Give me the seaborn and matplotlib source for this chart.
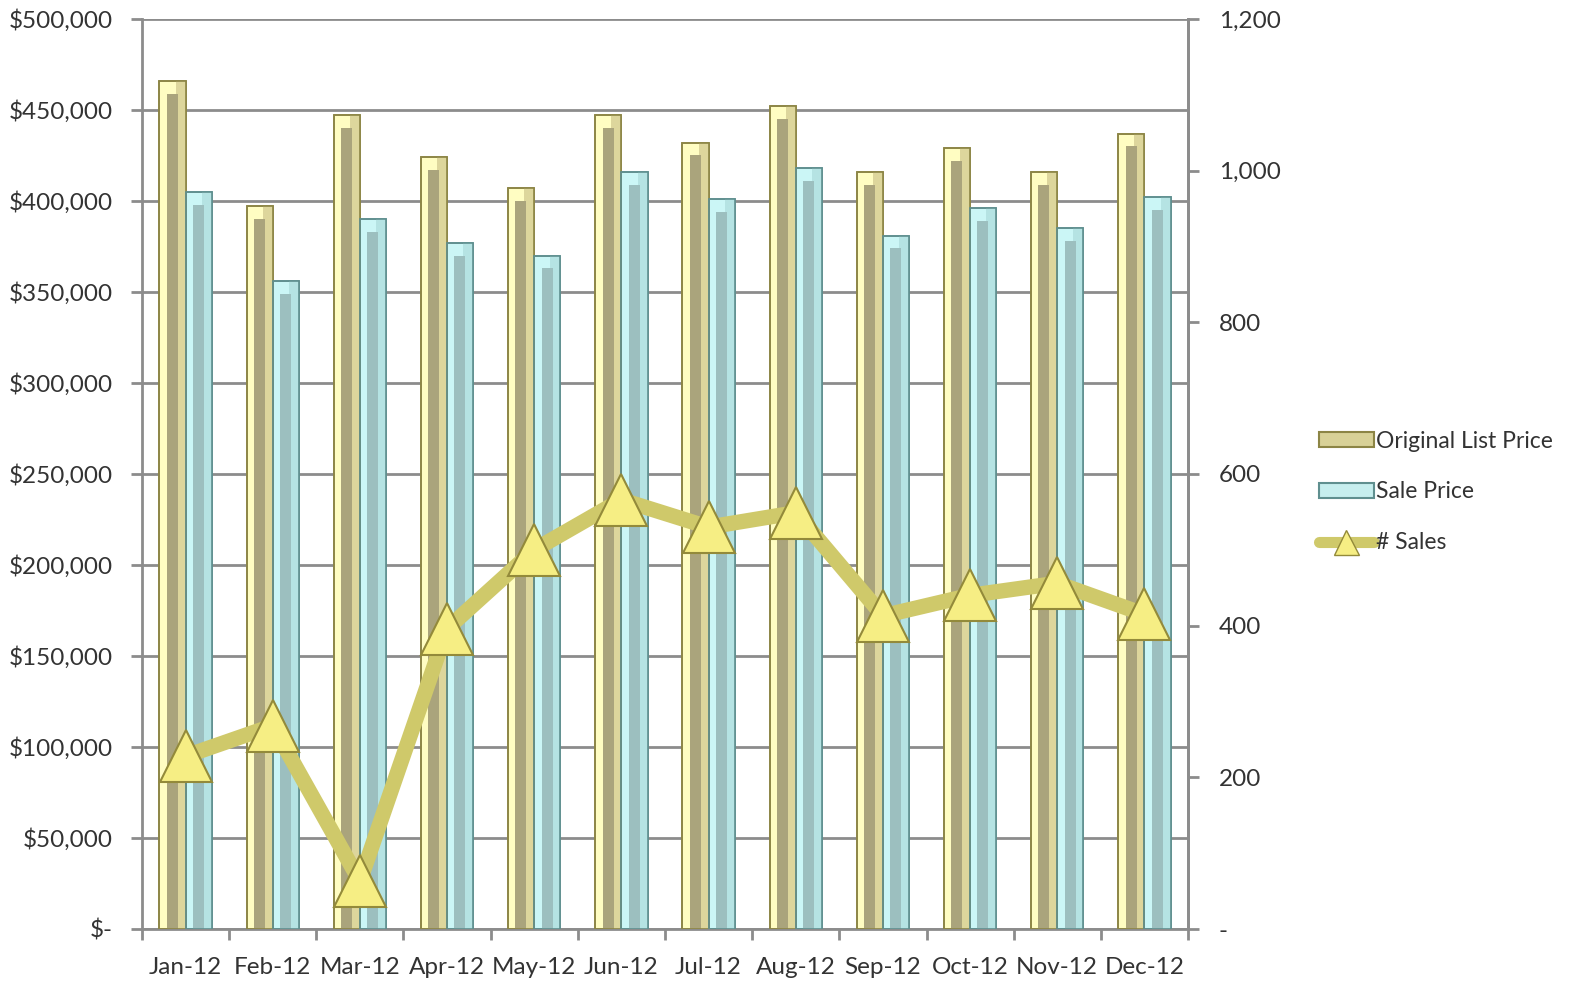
import numpy as np
import pandas as pd
import matplotlib
matplotlib.use('Agg')
import matplotlib.pyplot as plt
from matplotlib.patches import Rectangle
from matplotlib.lines import Line2D
from matplotlib.ticker import FuncFormatter, FixedLocator
import seaborn as sns

months = ['Jan-12', 'Feb-12', 'Mar-12', 'Apr-12', 'May-12', 'Jun-12',
          'Jul-12', 'Aug-12', 'Sep-12', 'Oct-12', 'Nov-12', 'Dec-12']
list_price = [466000, 397000, 447000, 424000, 407000, 447000,
              432000, 452000, 416000, 429000, 416000, 437000]
sale_price = [405000, 356000, 390000, 377000, 370000, 416000,
              401000, 418000, 381000, 396000, 385000, 402000]
num_sales = [228, 268, 63, 396, 500, 566, 530, 549, 413, 440, 456, 415]

sns.set_theme(style='white')
plt.rcParams['font.family'] = ['Lato', 'DejaVu Sans']
plt.rcParams['text.color'] = '#333333'

df = pd.DataFrame({'Month': months * 2,
                   'Price': list_price + sale_price,
                   'Series': ['Original List Price'] * 12 + ['Sale Price'] * 12})

fig = plt.figure(figsize=(15.71, 9.81), dpi=100)
ax = fig.add_axes([142 / 1571, 52 / 981, 1046 / 1571, 910 / 981])

styles = {
    'Original List Price': dict(outer='#FFFDC2', right='#DDD69C', inner='#AAA47C', edge='#8C8545'),
    'Sale Price': dict(outer='#CBF6F6', right='#B5E3E3', inner='#9CBFBF', edge='#5F8F8F'),
}
pal = {k: v['outer'] for k, v in styles.items()}

sns.barplot(data=df, x='Month', y='Price', hue='Series', palette=pal,
            width=0.6, gap=0, saturation=1, ax=ax, legend=False, zorder=3)

# bevelled look: add lighter right band and darker inner stripe on each bar
for cont, name in zip(ax.containers, ['Original List Price', 'Sale Price']):
    st = styles[name]
    for p in cont.patches:
        x0, w, h = p.get_x(), p.get_width(), p.get_height()
        p.set_edgecolor(st['edge'])
        p.set_linewidth(1.2)
        ax.add_patch(Rectangle((x0 + w * 0.62, 0), w * 0.38, h, facecolor=st['right'],
                               edgecolor='none', zorder=3.1))
        ax.add_patch(Rectangle((x0 + w * 0.28, 0), w * 0.42, h - 7000, facecolor=st['inner'],
                               edgecolor='none', zorder=3.2))
        ax.add_patch(Rectangle((x0, 0), w, h, facecolor='none',
                               edgecolor=st['edge'], linewidth=1.2, zorder=3.3))

ax.set_ylim(0, 500000)
ax.set_xlim(-0.5, 11.5)
ax.set_yticks(np.arange(0, 500001, 50000))
ax.yaxis.set_major_formatter(FuncFormatter(lambda v, _: '$-' if v == 0 else f'${v:,.0f}'))
ax.grid(axis='y', color='#8C8C8C', linewidth=2, zorder=0)
ax.set_axisbelow(True)
ax.set_xlabel('')
ax.set_ylabel('')
ax.spines['top'].set_visible(False)
for s in ['left', 'bottom', 'right']:
    ax.spines[s].set_color('#8C8C8C')
    ax.spines[s].set_linewidth(2)
ax.tick_params(axis='y', which='major', length=8, width=2, color='#8C8C8C',
               labelsize=17.5, labelcolor='#333333', left=True, pad=13)
ax.tick_params(axis='x', which='major', length=0, labelsize=17.5, labelcolor='#333333', pad=20)
ax.xaxis.set_minor_locator(FixedLocator(np.arange(-0.5, 12, 1)))
ax.tick_params(axis='x', which='minor', length=8, width=2, color='#8C8C8C', bottom=True)

ax2 = ax.twinx()
sns.lineplot(x=np.arange(12), y=num_sales, ax=ax2, color='#CFC96A', linewidth=11,
             marker='^', markersize=38, markerfacecolor='#F6EE84',
             markeredgecolor='#938A3A', markeredgewidth=1.5, zorder=5)
ax2.set_ylim(0, 1200)
ax2.set_yticks(np.arange(0, 1201, 200))
ax2.yaxis.set_major_formatter(FuncFormatter(lambda v, _: '-' if v == 0 else f'{v:,.0f}'))
ax2.tick_params(axis='y', length=8, width=2, color='#8C8C8C', labelsize=17.5,
                labelcolor='#333333', right=True, pad=14)
for s in ['top', 'left', 'bottom']:
    ax2.spines[s].set_visible(False)
ax2.spines['right'].set_color('#8C8C8C')
ax2.spines['right'].set_linewidth(2)

handles = [
    Rectangle((0, 0), 1, 1, facecolor='#D8D197', edgecolor='#8C8545', linewidth=1.5),
    Rectangle((0, 0), 1, 1, facecolor='#C6EEEE', edgecolor='#5F8F8F', linewidth=1.5),
    Line2D([], [], color='#CFC96A', linewidth=8, marker='^', markersize=18,
           markerfacecolor='#F6EE84', markeredgecolor='#938A3A'),
]
fig.legend(handles, ['Original List Price', 'Sale Price', '# Sales'],
           loc='center left', bbox_to_anchor=(1298 / 1571, 1 - 492 / 981),
           frameon=False, fontsize=16.5, handlelength=2.4, handleheight=0.6,
           handletextpad=0.1, labelspacing=1.3)

fig.savefig('out.png', dpi=100)
